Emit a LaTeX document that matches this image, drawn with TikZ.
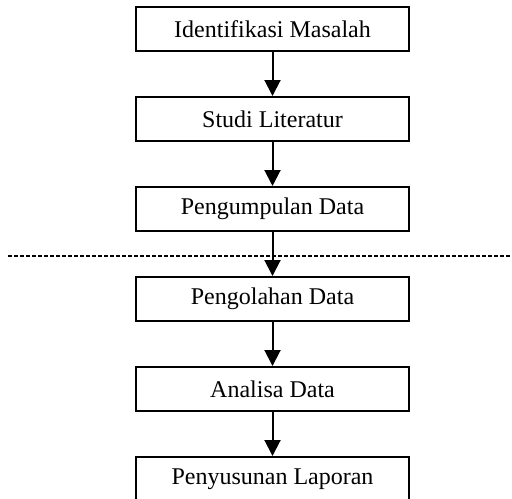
\documentclass[tikz,border=0pt]{standalone}
\usepackage{fontspec}
\setmainfont{Liberation Serif}
\usetikzlibrary{positioning,arrows.meta}

\tikzset{
  langkah/.style={draw, line width=1pt, minimum width=136.5pt, minimum height=22pt,
    inner sep=0pt, font=\fontsize{12}{14}\selectfont},
  alur/.style={->, line width=1pt},
}

\begin{document}
\begin{tikzpicture}[>={Triangle[width=8pt,length=8pt]}, node distance=22pt]
\useasboundingbox (0,0) rectangle (256pt,-249pt);
% tahapan penelitian
\node[langkah] (identifikasi) at (136.25pt,-14.5pt) {Identifikasi Masalah};
\node[langkah, below=of identifikasi] (studi) {Studi Literatur};
\node[langkah, below=of studi] (pengumpulan) {Pengumpulan Data};
\node[langkah, below=of pengumpulan] (pengolahan) {Pengolahan Data};
\node[langkah, below=of pengolahan] (analisa) {Analisa Data};
\node[langkah, below=of analisa] (laporan) {Penyusunan Laporan};
\draw[alur] (identifikasi) -- (studi);
\draw[alur] (studi) -- (pengumpulan);
\draw[alur] (pengumpulan) -- (pengolahan);
\draw[alur] (pengolahan) -- (analisa);
\draw[alur] (analisa) -- (laporan);
% garis pemisah
\coordinate (kiri) at (4pt,-128pt);
\coordinate (kanan) at (256pt,-128pt);
\draw[line width=0.7pt, dash pattern=on 2pt off 1pt] (kiri) -- (kanan);
\end{tikzpicture}
\end{document}
